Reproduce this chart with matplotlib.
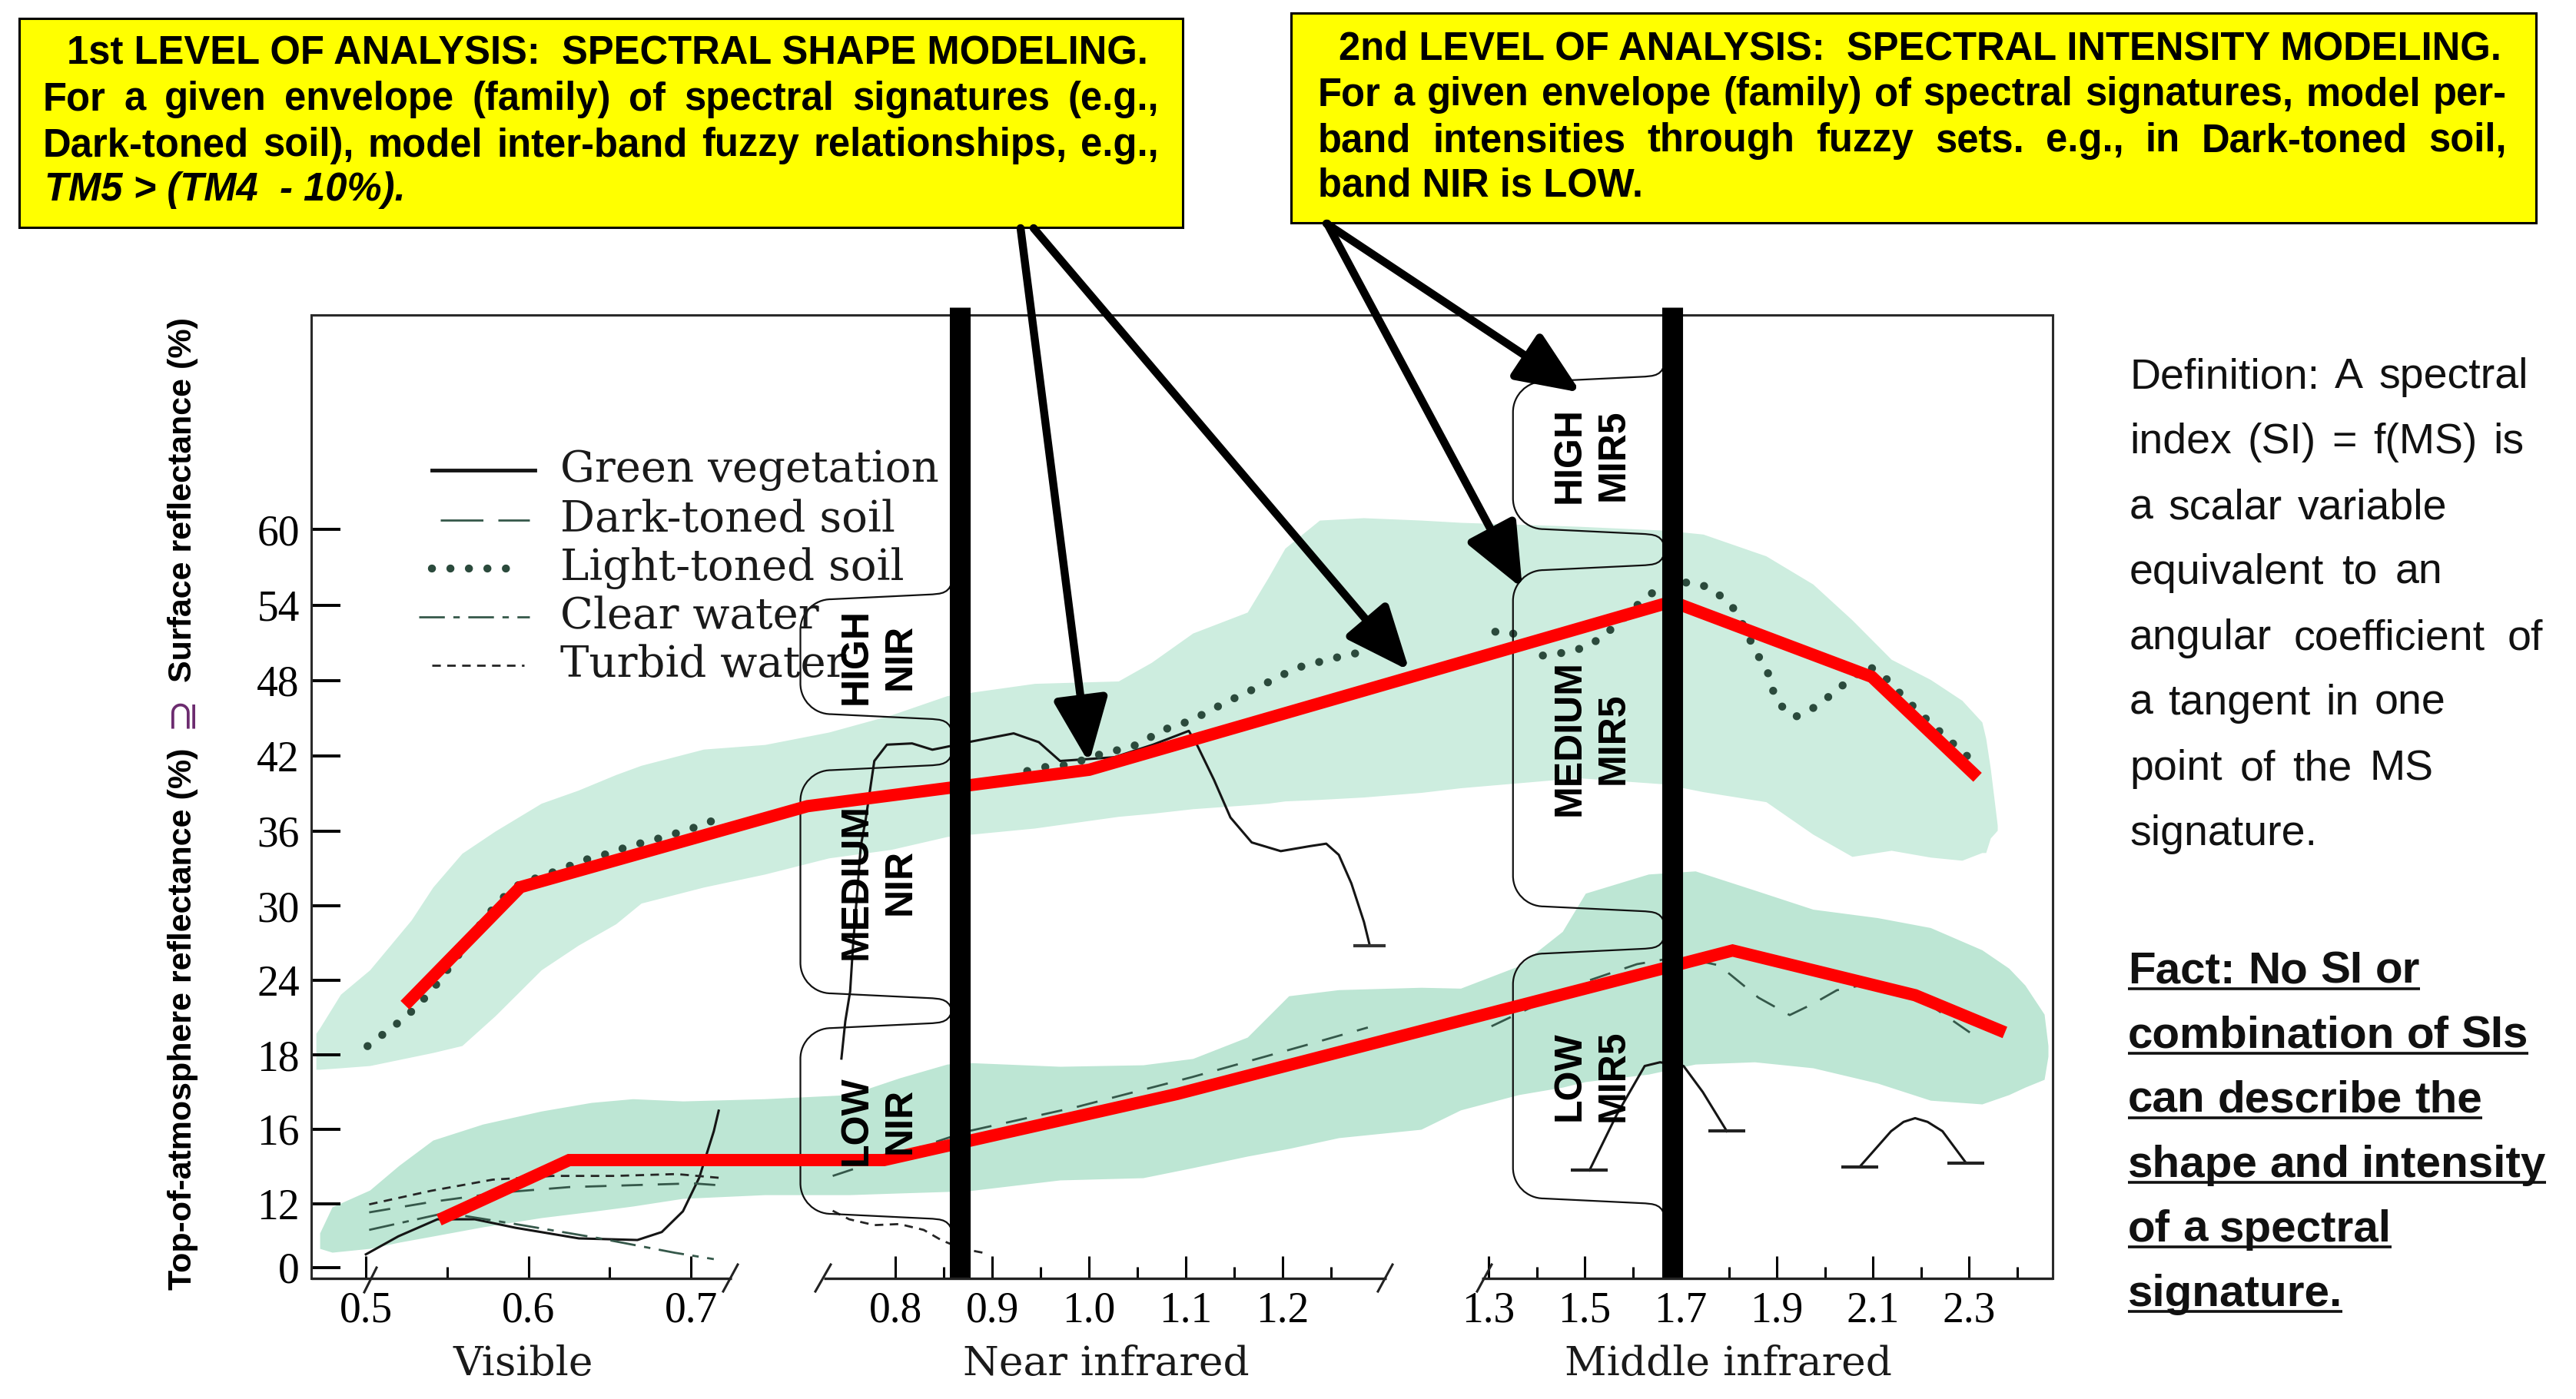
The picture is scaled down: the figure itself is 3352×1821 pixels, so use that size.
import matplotlib
matplotlib.use("Agg")
import matplotlib.pyplot as plt
import numpy as np
from matplotlib import font_manager
from matplotlib.patches import Rectangle, PathPatch
from matplotlib.path import Path

W, H = 3352, 1821

# ---------------------------------------------------------------- data
# wavelength (um) / reflectance (%)

# thick red piecewise-linear shape models
LIGHT_FIT_WL = [0.524, 0.595, 0.728, 1.000, 1.682, 2.098, 2.318]
LIGHT_FIT_R = [22.0, 31.5, 38.0, 40.9, 54.3, 48.3, 40.3]
DARK_FIT_WL = [0.545, 0.625, 0.788, 1.091, 1.808, 2.188, 2.375]
DARK_FIT_R = [9.0, 14.35, 14.35, 16.95, 26.4, 22.8, 19.8]

# green envelopes (families of signatures)
UPPER_ENV_WL = [0.4693, 0.4716, 0.4844, 0.5024, 0.5279, 0.5412, 0.5591, 0.5795, 0.6079,
                0.6306, 0.6537, 0.6693, 0.7077, 0.7258, 0.7310, 0.7952, 0.8532, 0.9437,
                1.0302, 1.0643, 1.1071, 1.1635, 1.1849, 1.2024, 1.2381, 1.2833, 1.2922,
                1.2939, 1.4856, 1.6648, 1.7464, 1.8776, 1.9752, 2.0568, 2.1384, 2.2200,
                2.2856, 2.3272, 2.3352, 2.3448, 2.3592]
UPPER_ENV_TOP = [19.73, 20.16, 22.87, 24.84, 28.85, 31.50, 34.22, 36.01, 38.23, 39.27,
                 40.51, 41.25, 42.54, 42.91, 43.90, 45.26, 46.80, 47.78, 47.97, 49.45,
                 51.79, 53.46, 56.17, 58.51, 60.73, 60.92, 60.73, 60.55, 60.24, 59.93,
                 59.62, 57.90, 55.68, 52.84, 49.70, 48.09, 46.43, 44.70, 43.41, 41.00, 36.50]
UPPER_ENV_BOT = [17.61, 17.61, 17.65, 17.71, 17.94, 18.18, 18.74, 21.14, 24.84, 26.82,
                 28.54, 30.21, 31.50, 32.55, 33.85, 34.53, 35.57, 36.25, 37.18, 37.42,
                 37.79, 38.10, 38.23, 38.41, 38.53, 38.72, 39.09, 39.46, 40.26, 39.77,
                 39.15, 38.35, 35.76, 33.97, 34.46, 33.91, 33.66, 34.28, 34.28, 35.45, 36.07]
LOWER_ENV_WL = [0.4716, 0.4792, 0.5024, 0.5203, 0.5412, 0.5719, 0.6079, 0.6386, 0.6641,
                0.6949, 0.7258, 0.7524, 0.8040, 0.8532, 0.8754, 0.9698, 1.0556, 1.1071,
                1.1635, 1.2063, 1.2579, 1.2922, 1.2939, 1.3624, 1.4536, 1.5016, 1.6328,
                1.7304, 1.8536, 1.9752, 2.1096, 2.2200, 2.3272, 2.3832, 2.4168, 2.4568, 2.4648]
LOWER_ENV_TOP = [6.51, 11.42, 12.74, 14.06, 15.42, 16.14, 16.49, 16.72, 16.82, 16.76,
                 16.82, 16.93, 17.38, 17.75, 17.79, 17.69, 17.73, 17.90, 19.42, 22.75,
                 23.24, 23.43, 23.36, 25.15, 27.93, 31.01, 32.55, 32.80, 31.26, 29.72,
                 29.04, 28.24, 26.45, 24.97, 23.61, 21.27, 18.74]
LOWER_ENV_BOT = [3.61, 2.89, 3.61, 4.77, 5.93, 7.66, 9.40, 10.55, 11.57, 12.29, 12.49,
                 12.49, 12.58, 12.66, 12.70, 13.28, 13.40, 13.94, 14.56, 14.97, 15.55,
                 16.00, 16.52, 16.93, 17.13, 17.28, 17.48, 17.75, 17.81, 17.65, 17.24,
                 16.78, 16.68, 16.93, 17.13, 17.34, 17.96]

# original spectral signatures (one list pair per axis section)
VEG_VIS_WL = [0.500, 0.520, 0.544, 0.567, 0.592, 0.631, 0.667, 0.682, 0.695, 0.705, 0.714, 0.717]
VEG_VIS_R = [2.5, 5.9, 9.1, 9.1, 7.5, 5.5, 5.2, 6.7, 10.6, 13.4, 15.9, 16.5]
VEG_NIR_WL = [0.744, 0.748, 0.753, 0.756, 0.764, 0.769, 0.778, 0.791, 0.817, 0.838, 0.851,
              0.875, 0.922, 0.948, 0.970, 1.026, 1.066, 1.103, 1.112, 1.129, 1.146, 1.168,
              1.198, 1.228, 1.245, 1.258, 1.271, 1.284, 1.290]
VEG_NIR_R = [17.9, 20.7, 23.1, 26.8, 34.8, 36.9, 41.6, 42.9, 43.0, 42.5, 42.7, 43.1, 43.8,
             43.1, 41.6, 41.9, 42.9, 44.0, 42.8, 40.1, 37.1, 35.1, 34.4, 34.8, 35.0, 34.1,
             31.8, 28.7, 26.8]
VEG_MIR1_WL = [1.510, 1.567, 1.625, 1.657, 1.706, 1.746, 1.796]
VEG_MIR1_R = [13.8, 16.4, 17.7, 17.8, 17.7, 17.0, 15.9]
VEG_MIR2_WL = [2.073, 2.138, 2.164, 2.188, 2.214, 2.245, 2.294]
VEG_MIR2_R = [14.0, 15.9, 16.2, 16.3, 16.2, 15.9, 14.2]

LIGHT_VIS_WL = [0.501, 0.513, 0.522, 0.529, 0.540, 0.554, 0.568, 0.582, 0.595, 0.611, 0.625,
                0.635, 0.649, 0.662, 0.677, 0.690, 0.707, 0.718]
LIGHT_VIS_R = [18.7, 19.9, 20.8, 21.6, 23.1, 25.5, 28.1, 30.4, 31.8, 32.5, 33.2, 33.7, 34.2,
               34.8, 35.3, 35.8, 36.5, 37.1]
LIGHT_NIR_WL = [0.936, 0.952, 0.979, 1.018, 1.039, 1.056, 1.073, 1.094, 1.112, 1.142, 1.161,
                1.183, 1.206, 1.225, 1.245, 1.267, 1.290]
LIGHT_NIR_R = [40.8, 41.1, 41.3, 42.3, 42.6, 43.1, 44.0, 44.5, 45.1, 46.3, 47.0, 47.8, 48.7,
               49.3, 49.6, 50.1, 50.3]
LIGHT_MIR_WL = [1.314, 1.346, 1.412, 1.470, 1.510, 1.543, 1.582, 1.620, 1.649, 1.681, 1.727,
                1.759, 1.788, 1.809, 1.825, 1.854, 1.870, 1.886, 1.890, 1.906, 1.938, 1.975,
                2.004, 2.033, 2.090, 2.122, 2.146, 2.201, 2.249, 2.302]
LIGHT_MIR_R = [51.9, 51.9, 50.0, 50.3, 50.8, 51.7, 53.0, 54.4, 55.2, 55.8, 55.8, 55.4, 54.6,
               53.8, 52.8, 50.5, 49.4, 48.3, 47.4, 46.1, 45.1, 45.8, 46.6, 47.5, 49.2, 48.4,
               47.4, 45.3, 43.6, 41.8]

DARK_VIS_WL = [0.502, 0.540, 0.582, 0.625, 0.663, 0.701, 0.717]
DARK_VIS_R = [10.4, 12.1, 12.6, 12.9, 13.0, 13.1, 13.0]
DARK_NIR_WL = [0.735, 0.875, 0.987, 1.106, 1.225, 1.288]
DARK_NIR_R = [13.5, 15.9, 16.6, 17.4, 18.8, 20.2]
DARK_MIR_WL = [1.306, 1.404, 1.510, 1.609, 1.698, 1.780, 1.862, 1.927, 1.975, 2.025, 2.089,
               2.201, 2.302]
DARK_MIR_R = [20.3, 22.1, 24.0, 25.3, 25.9, 25.2, 22.6, 21.2, 22.1, 23.2, 23.7, 22.5, 19.8]

CLEAR_VIS_WL = [0.502, 0.549, 0.592, 0.644, 0.690, 0.714]
CLEAR_VIS_R = [7.1, 10.3, 8.2, 5.5, 2.8, 1.6]
TURBID_VIS_WL = [0.502, 0.540, 0.578, 0.615, 0.653, 0.691, 0.717]
TURBID_VIS_R = [11.9, 12.7, 13.3, 13.5, 13.5, 13.6, 13.4]
TURBID_NIR_WL = [0.735, 0.752, 0.778, 0.804, 0.829, 0.847, 0.868, 0.896]
TURBID_NIR_R = [10.7, 9.1, 8.0, 8.2, 7.1, 5.2, 3.6, 2.6]

LEGEND_LABELS = ["Green vegetation", "Dark-toned soil", "Light-toned soil",
                 "Clear water", "Turbid water"]

# TM bands and their fuzzy sets (level, upper and lower reflectance bound)
BAND_WL = [0.866, 1.682]
BAND_NAMES = ["NIR", "MIR5"]
NIR_SETS = [("HIGH", 56.0, 43.8), ("MEDIUM", 42.4, 21.4), ("LOW", 21.7, 6.5)]
MIR_SETS = [("HIGH", 73.3, 58.5), ("MEDIUM", 58.3, 28.4), ("LOW", 27.7, 9.4)]

X_MAJOR = [0.5, 0.6, 0.7, 0.8, 0.9, 1.0, 1.1, 1.2, 1.3, 1.5, 1.7, 1.9, 2.1, 2.3]
X_MAJOR_LABELS = ["0.5", "0.6", "0.7", "0.8", "0.9", "1.0", "1.1", "1.2", "1.3", "1.5",
                  "1.7", "1.9", "2.1", "2.3"]
X_MINOR = [0.55, 0.65, 0.85, 0.95, 1.05, 1.15, 1.25, 1.4, 1.6, 1.8, 2.0, 2.2, 2.4]
Y_TICKS = [0, 12, 16, 18, 24, 30, 36, 42, 48, 54, 60]
REGIONS = ["Visible", "Near infrared", "Middle infrared"]
REGION_WL = [0.5965, 1.0175, 1.799]

BOX1 = ["1st LEVEL OF ANALYSIS:  SPECTRAL SHAPE MODELING.",
        "For a given envelope (family) of spectral signatures (e.g.,",
        "Dark-toned soil), model inter-band fuzzy relationships, e.g.,",
        "TM5 > (TM4  - 10%)."]
BOX2 = ["2nd LEVEL OF ANALYSIS:  SPECTRAL INTENSITY MODELING.",
        "For a given envelope (family) of spectral signatures, model per-",
        "band intensities through fuzzy sets. e.g., in Dark-toned soil,",
        "band NIR is LOW."]
DEF_LINES = ["Definition:  A spectral", "index  (SI)  = f(MS) is", "a scalar  variable",
             "equivalent  to  an", "angular  coefficient  of", "a tangent  in one",
             "point  of  the  MS", "signature."]
FACT_LINES = ["Fact: No SI or", "combination of SIs", "can describe the",
              "shape and intensity", "of a spectral", "signature."]


def has_font(name):
    try:
        font_manager.findfont(font_manager.FontProperties(family=name),
                              fallback_to_default=False)
        return True
    except ValueError:
        return False


NARROW_OK = has_font("Liberation Sans Narrow")
NARROW = "Liberation Sans Narrow" if NARROW_OK else "Liberation Sans"

# ---------------------------------------------------------------- scales
# broken wavelength axis: visible / near-IR / middle-IR at different scales
X_BREAK_WL = [0.40, 0.724, 0.729, 1.29, 1.295, 2.60]
X_BREAK_POS = [264.6, 950.0, 1076.0, 1782.4, 1933.9, 2749.5]
Y_TICK_POS = [1650, 1567, 1470, 1373, 1276, 1179, 1082, 984, 886, 788, 689]
YV = np.r_[-30, Y_TICKS, 120]
YP = -np.r_[1650 + 30 * 83 / 12, Y_TICK_POS, 689 - 60 * 98.1 / 6]


def fwd_x(w):
    return np.interp(w, X_BREAK_WL, X_BREAK_POS)


def inv_x(p):
    return np.interp(p, X_BREAK_POS, X_BREAK_WL)


def fwd_y(v):
    return np.interp(v, YV, YP)


def inv_y(t):
    return np.interp(t, YP, YV)


fig = plt.figure(figsize=(W / 100, H / 100), dpi=100)
fig.patch.set_facecolor("white")

L, R, T, B = 405, 2671, 410, 1664
ax = fig.add_axes([L / W, 1 - B / H, (R - L) / W, (B - T) / H])
ax.set_xscale("function", functions=(fwd_x, inv_x))
ax.set_yscale("function", functions=(fwd_y, inv_y))
ax.set_xlim(float(inv_x(L)), float(inv_x(R)))
ax.set_ylim(float(inv_y(-B)), float(inv_y(-T)))

ov = fig.add_axes([0, 0, 1, 1])
ov.set_xlim(0, W)
ov.set_ylim(H, 0)
ov.axis("off")
ov.set_zorder(10)
renderer = fig.canvas.get_renderer()


def to_px(wl, v):
    return ov.transData.inverted().transform(ax.transData.transform((wl, v)))


# ---------------------------------------------------------------- envelopes
ax.fill_between(UPPER_ENV_WL, UPPER_ENV_BOT, UPPER_ENV_TOP, color="#cdeddf", lw=0, zorder=1)
ax.fill_between(LOWER_ENV_WL, LOWER_ENV_BOT, LOWER_ENV_TOP, color="#bde6d4", lw=0, zorder=1)

# ---------------------------------------------------------------- signatures
STYLES = [
    dict(color="#151515", lw=2.2, ls="-"),
    dict(color="#35584a", lw=2.0, ls=(0, (10, 7))),
    dict(color="#2b4a3c", lw=7.5, ls=(0, (0.01, 2.3)), dash_capstyle="round"),
    dict(color="#35584a", lw=2.0, ls=(0, (12, 4, 3, 4))),
    dict(color="#252525", lw=2.0, ls=(0, (4, 3))),
]
for wl, r in [(VEG_VIS_WL, VEG_VIS_R), (VEG_NIR_WL, VEG_NIR_R),
              (VEG_MIR1_WL, VEG_MIR1_R), (VEG_MIR2_WL, VEG_MIR2_R)]:
    ax.plot(wl, r, zorder=2, **STYLES[0])
for wl, r in [(DARK_VIS_WL, DARK_VIS_R), (DARK_NIR_WL, DARK_NIR_R), (DARK_MIR_WL, DARK_MIR_R)]:
    ax.plot(wl, r, zorder=2, **STYLES[1])
for wl, r in [(LIGHT_VIS_WL, LIGHT_VIS_R), (LIGHT_NIR_WL, LIGHT_NIR_R),
              (LIGHT_MIR_WL, LIGHT_MIR_R)]:
    ax.plot(wl, r, zorder=2, **STYLES[2])
ax.plot(CLEAR_VIS_WL, CLEAR_VIS_R, zorder=2, **STYLES[3])
for wl, r in [(TURBID_VIS_WL, TURBID_VIS_R), (TURBID_NIR_WL, TURBID_NIR_R)]:
    ax.plot(wl, r, zorder=2, **STYLES[4])

# end caps of the mid-IR vegetation bands
for wl, r in [(VEG_MIR1_WL, VEG_MIR1_R), (VEG_MIR2_WL, VEG_MIR2_R)]:
    ax.plot([wl[0], wl[-1]], [r[0], r[-1]], ls="none", marker="_", ms=34, mew=3,
            color="#222222", zorder=2)
ax.plot([VEG_NIR_WL[-1]], [VEG_NIR_R[-1]], ls="none", marker="_", ms=30, mew=3,
        color="#333333", zorder=2)

# ---------------------------------------------------------------- red models
for wl, r in [(LIGHT_FIT_WL, LIGHT_FIT_R), (DARK_FIT_WL, DARK_FIT_R)]:
    ax.plot(wl, r, color="#ff0000", lw=11.5, solid_capstyle="butt",
            solid_joinstyle="miter", zorder=4)

# ---------------------------------------------------------------- axes look
ax.set_xticks(X_MAJOR, labels=X_MAJOR_LABELS)
ax.set_xticks(X_MINOR, minor=True)
ax.set_yticks(Y_TICKS, labels=[str(v) for v in Y_TICKS])
ax.yaxis.set_minor_locator(matplotlib.ticker.NullLocator())
ax.tick_params(axis="x", which="major", direction="in", length=21, width=2.2, pad=12,
               labelsize=40, labelfontfamily="Liberation Serif", top=False)
ax.tick_params(axis="x", which="minor", direction="in", length=11, width=2.2, top=False)
ax.tick_params(axis="y", direction="in", length=27, width=2.8, pad=11, labelsize=40,
               labelfontfamily="Liberation Serif", right=False)
ax.spines["bottom"].set_visible(False)
for s in ["top", "left", "right"]:
    ax.spines[s].set_linewidth(2.2)
    ax.spines[s].set_color("#2a2a2a")
ax.set_facecolor("white")

# broken x axis line
for x0, x1 in [(405, 952), (1072, 1804), (1928, 2671)]:
    ov.plot([x0, x1], [B, B], color="#222222", lw=2.4, solid_capstyle="butt")
for (xa, ya), (xb, yb) in [((474, 1682), (490, 1650)), ((941, 1681), (960, 1646)),
                           ((1061, 1681), (1081, 1646)), ((1793, 1681), (1812, 1646)),
                           ((1922, 1681), (1941, 1646))]:
    ov.plot([xa, xb], [ya, yb], color="#222222", lw=2.2)

for name, wl in zip(REGIONS, REGION_WL):
    ov.text(to_px(wl, 0)[0], 1790, name, ha="center", va="baseline",
            family="DejaVu Serif", fontsize=38.5, color="#1a1a1a")

ov.text(238, 1326, "Top-of-atmosphere reflectance (%)", rotation=90, ha="center",
        va="center", family="Liberation Sans", weight="bold", fontsize=31)
ov.text(236, 926, "\u2287", rotation=90, ha="center", va="center",
        family=["DejaVu Sans"], fontsize=37, color="#6b2a6e")
ov.text(238, 650, "Surface reflectance (%)", rotation=90, ha="center", va="center",
        family="Liberation Sans", weight="bold", fontsize=31)

# ---------------------------------------------------------------- legend
LEG_Y = [612, 677, 740, 803, 866]
LEG_X = [(562, 696), (573, 689), (562, 680), (545, 689), (562, 682)]
for lab, y, (x0, x1), st in zip(LEGEND_LABELS, LEG_Y, LEG_X, STYLES):
    st = dict(st)
    if lab == "Green vegetation":
        st["lw"] = 3.5
    if lab == "Dark-toned soil":
        st["ls"] = (0, (20, 7))
    ax.plot([x0, x1], [y, y], transform=ov.transData, clip_on=False, zorder=5, **st)
    ax.text(729, y, lab, transform=ov.transData, ha="left", va="center",
            family="DejaVu Serif", fontsize=40.5, color="#1a1a1a", clip_on=False, zorder=5)


# ---------------------------------------------------------------- fuzzy sets
def bracket(xb, xl, ya, yb, r=40, d=18):
    k = 1 - 0.552
    verts = [(xb + 6, ya - 4),
             (xb + 2, ya + d), (xb - 8, ya + d), (xb - 28, ya + d + 1),
             (xl + r, ya + d + 7),
             (xl + r * k, ya + d + 7), (xl, ya + d + 7 + r * k), (xl, ya + d + 7 + r),
             (xl, yb - d - 7 - r),
             (xl, yb - d - 7 - r * k), (xl + r * k, yb - d - 7), (xl + r, yb - d - 7),
             (xb - 28, yb - d - 1),
             (xb - 8, yb - d), (xb + 2, yb - d), (xb + 6, yb + 4)]
    codes = ([Path.MOVETO] + [Path.CURVE4] * 3 + [Path.LINETO] + [Path.CURVE4] * 3 +
             [Path.LINETO] + [Path.CURVE4] * 3 + [Path.LINETO] + [Path.CURVE4] * 3)
    return Path(verts, codes)


lab_size = 45 if NARROW_OK else 36
for wl, band, sets in zip(BAND_WL, BAND_NAMES, [NIR_SETS, MIR_SETS]):
    xb = to_px(wl, 0)[0] - 14
    xl = xb - 193
    for level, top, bot in sets:
        ya = to_px(wl, top)[1]
        yb = to_px(wl, bot)[1]
        ax.add_patch(PathPatch(bracket(xb, xl, ya, yb), transform=ov.transData,
                               fill=False, ec="#111111", lw=1.6, zorder=3, clip_on=False))
        ax.text(xb - 91, (ya + yb) / 2, f"{level}\n{band}", transform=ov.transData,
                rotation=90, ha="center", va="center", multialignment="center",
                family=NARROW, weight="bold", fontsize=lab_size, linespacing=1.3,
                zorder=7, clip_on=False)
    ax.axvline(wl, ymin=0, ymax=(B - 400) / (B - T), color="black", lw=19.5,
               solid_capstyle="butt", clip_on=False, zorder=6)


# ---------------------------------------------------------------- text helpers
def words_line(text, x0, y, x1=None, **kw):
    if x1 is None:
        t = ov.text(x0, y, text, ha="left", va="baseline", **kw)
        return x0 + t.get_window_extent(renderer).width
    words = text.split()
    objs = [ov.text(x0, y, w, ha="left", va="baseline", **kw) for w in words]
    widths = [o.get_window_extent(renderer).width for o in objs]
    gap = (x1 - x0 - sum(widths)) / max(len(words) - 1, 1)
    x = x0
    for o, w in zip(objs, widths):
        o.set_x(x)
        x += w + gap
    return x1


# ---------------------------------------------------------------- yellow boxes
box_kw = dict(family="Liberation Sans", weight="bold", fontsize=36.5)
for (x0, y0, x1, y1), lines, tx0, tx1, base, italic_last in [
        ((25, 24, 1539, 296), BOX1, 56, 1508, 83, True),
        ((1680, 17, 3300, 290), BOX2, 1715, 3262, 77, False)]:
    ov.add_patch(Rectangle((x0, y0), x1 - x0, y1 - y0, fc="#ffff00", ec="black", lw=2.2))
    ov.text((x0 + x1) / 2 + 8, base, lines[0], ha="center", va="baseline", **box_kw)
    words_line(lines[1], tx0, base + 60, tx1, **box_kw)
    words_line(lines[2], tx0, base + 120, tx1, **box_kw)
    if italic_last:
        words_line(lines[3], tx0 + 2, base + 178, style="italic", **box_kw)
    else:
        words_line(lines[3], tx0, base + 178, **box_kw)

# arrows from the boxes into the chart
for (xs, ys), (xt, yt) in [((1328, 297), (1417, 993)), ((1345, 297), (1834, 873)),
                           ((1726, 291), (2057, 511)), ((1727, 291), (1981, 766))]:
    ov.annotate("", xy=(xt, yt), xytext=(xs, ys),
                arrowprops=dict(arrowstyle="-|>,head_length=0.85,head_width=0.36",
                                lw=7.5, color="black", shrinkA=0, shrinkB=0,
                                mutation_scale=60))

# ---------------------------------------------------------------- side text
def_size = 47 if NARROW_OK else 40
fact_size = 50 if NARROW_OK else 42
DEF_RIGHT = [3290, 3284, 3184, 3178, 3309, 3182, 3166, None]
for i, (line, xr) in enumerate(zip(DEF_LINES, DEF_RIGHT)):
    words_line(line, 2771, 505 + 85 * i, xr, family=NARROW, fontsize=def_size,
               color="#111111")
FACT_RIGHT = [3149, 3290, 3230, 3313, 3112, None]
for i, (line, xr) in enumerate(zip(FACT_LINES, FACT_RIGHT)):
    y = 1280 + 84 * i
    xe = words_line(line, 2769, y, xr, family=NARROW, weight="bold", fontsize=fact_size,
                    color="#111111")
    ov.plot([2769, xe], [y + 7, y + 7], color="#111111", lw=2.6, solid_capstyle="butt")

fig.savefig("out.png", dpi=100, facecolor="white")
